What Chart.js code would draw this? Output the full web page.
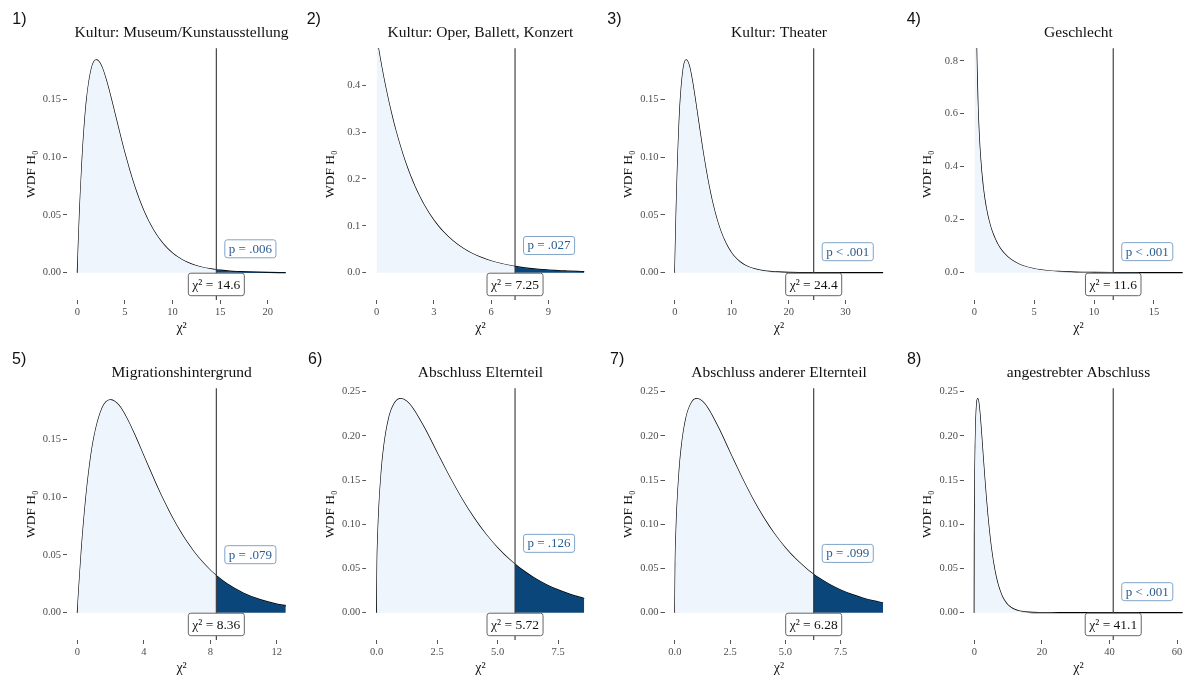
<!DOCTYPE html>
<html>
<head>
<meta charset="utf-8">
<script src="https://cdn.jsdelivr.net/npm/chart.js@4.4.0/dist/chart.umd.min.js"></script>
<style>
  html, body { margin: 0; padding: 0; background: #fff; overflow: hidden; }
  #wrap { position: relative; width: 1187px; height: 675px; overflow: hidden; }
  #wrap canvas { position: absolute; }
</style>
</head>
<body>
<div id="wrap"></div>
<script>
// Titel und Teststatistiken je Panel
const titles = [
  "Kultur: Museum/Kunstausstellung", "Kultur: Oper, Ballett, Konzert", "Kultur: Theater", "Geschlecht",
  "Migrationshintergrund", "Abschluss Elternteil", "Abschluss anderer Elternteil", "angestrebter Abschluss"
];
const chiValues = [14.6, 7.25, 24.4, 11.6, 8.36, 5.72, 6.28, 41.1];
const chiLabels = ["14.6", "7.25", "24.4", "11.6", "8.36", "5.72", "6.28", "41.1"];
const pLabels = ["p = .006", "p = .027", "p < .001", "p < .001", "p = .079", "p = .126", "p = .099", "p < .001"];

// Tick-Werte
const xTicks = [[0, 5, 10, 15, 20], [0, 3, 6, 9], [0, 10, 20, 30], [0, 5, 10, 15],
  [0, 4, 8, 12], [0, 2.5, 5, 7.5], [0, 2.5, 5, 7.5], [0, 20, 40, 60]];
const yTicks = [[0, 0.05, 0.1, 0.15], [0, 0.1, 0.2, 0.3, 0.4], [0, 0.05, 0.1, 0.15], [0, 0.2, 0.4, 0.6, 0.8],
  [0, 0.05, 0.1, 0.15], [0, 0.05, 0.1, 0.15, 0.2, 0.25], [0, 0.05, 0.1, 0.15, 0.2, 0.25], [0, 0.05, 0.1, 0.15, 0.2, 0.25]];
const xDec = [0, 0, 0, 0, 0, 1, 1, 0];
const yDec = [2, 1, 2, 1, 2, 2, 2, 2];
const yTop = [0.194, 0.479, 0.194, 0.847, 0.194, 0.2538, 0.2538, 0.2538];

// Dichtekurven
const x1 = [0, 0.25, 0.5, 0.75, 1, 1.5, 2, 2.5, 3, 3.5, 4, 5, 6, 7, 8, 9, 10, 11, 12, 13, 14, 14.6, 15, 16, 17, 18, 20, 21.9];
const y1 = [0, 0.0552, 0.0974, 0.1289, 0.1516, 0.1771, 0.1839, 0.1791, 0.1673, 0.1520, 0.1353, 0.1026, 0.0747, 0.0528, 0.0366, 0.0250, 0.0168, 0.0112, 0.0074, 0.0049, 0.0032, 0.0025, 0.0021, 0.0013, 0.0009, 0.0006, 0.0002, 0.0001];

const x2 = [0, 0.25, 0.5, 0.75, 1, 1.5, 2, 2.5, 3, 3.5, 4, 4.5, 5, 5.5, 6, 6.5, 7, 7.25, 7.5, 8, 8.5, 9, 9.5, 10, 10.5, 10.875];
const y2 = [0.5, 0.4412, 0.3894, 0.3436, 0.3033, 0.2362, 0.1839, 0.1433, 0.1116, 0.0869, 0.0677, 0.0527, 0.0410, 0.0320, 0.0249, 0.0194, 0.0151, 0.0133, 0.0118, 0.0092, 0.0071, 0.0056, 0.0043, 0.0034, 0.0026, 0.0022];

const x3 = [0, 0.25, 0.5, 0.75, 1, 1.5, 2, 2.5, 3, 3.5, 4, 5, 6, 7, 8, 9, 10, 11, 12, 13, 14, 16, 18, 20, 24.4, 28, 32, 36.6];
const y3 = [0, 0.0552, 0.0974, 0.1289, 0.1516, 0.1771, 0.1839, 0.1791, 0.1673, 0.1520, 0.1353, 0.1026, 0.0747, 0.0528, 0.0366, 0.0250, 0.0168, 0.0112, 0.0074, 0.0049, 0.0032, 0.0013, 0.0006, 0.0002, 0, 0, 0, 0];

const x4 = [0.01, 0.05, 0.1, 0.15, 0.2, 0.3, 0.4, 0.5, 0.75, 1, 1.25, 1.5, 2, 2.5, 3, 3.5, 4, 5, 6, 7, 8, 9, 10, 11.6, 14, 17.4];
const y4 = [3.97, 1.74, 1.2, 0.9556, 0.8072, 0.6269, 0.5164, 0.4394, 0.3166, 0.2420, 0.1910, 0.1539, 0.1038, 0.0723, 0.0514, 0.0371, 0.0270, 0.0146, 0.0081, 0.0046, 0.0026, 0.0015, 0.0009, 0.0003, 0.0001, 0];

const x5 = [0, 0.25, 0.5, 0.75, 1, 1.5, 2, 2.5, 3, 3.5, 4, 5, 6, 7, 8, 8.36, 9, 10, 11, 12, 12.54];
const y5 = [0, 0.0552, 0.0974, 0.1289, 0.1516, 0.1771, 0.1839, 0.1791, 0.1673, 0.1520, 0.1353, 0.1026, 0.0747, 0.0528, 0.0366, 0.0320, 0.0250, 0.0168, 0.0112, 0.0074, 0.0060];

const x6 = [0, 0.02, 0.05, 0.1, 0.2, 0.3, 0.5, 0.75, 1, 1.25, 1.5, 2, 2.5, 3, 3.5, 4, 4.5, 5, 5.5, 5.72, 6, 6.5, 7, 7.5, 8, 8.58];
const y6 = [0, 0.0559, 0.0870, 0.1200, 0.1614, 0.1881, 0.2197, 0.2375, 0.2420, 0.2388, 0.2308, 0.2076, 0.1807, 0.1542, 0.1297, 0.1080, 0.0892, 0.0732, 0.0598, 0.0547, 0.0487, 0.0395, 0.0319, 0.0257, 0.0207, 0.0160];

const x7 = [0, 0.02, 0.05, 0.1, 0.2, 0.3, 0.5, 0.75, 1, 1.25, 1.5, 2, 2.5, 3, 3.5, 4, 4.5, 5, 5.5, 6, 6.28, 6.5, 7, 7.5, 8, 8.5, 9, 9.42];
const y7 = [0, 0.0559, 0.0870, 0.1200, 0.1614, 0.1881, 0.2197, 0.2375, 0.2420, 0.2388, 0.2308, 0.2076, 0.1807, 0.1542, 0.1297, 0.1080, 0.0892, 0.0732, 0.0598, 0.0487, 0.0433, 0.0395, 0.0319, 0.0257, 0.0207, 0.0166, 0.0133, 0.0110];

const x8 = [0, 0.05, 0.1, 0.2, 0.3, 0.5, 0.75, 1, 1.25, 1.5, 2, 2.5, 3, 3.5, 4, 5, 6, 7, 8, 9, 10, 12, 14, 16, 20, 25, 30, 41.1, 50, 61.65];
const y8 = [0, 0.0870, 0.1200, 0.1614, 0.1881, 0.2197, 0.2375, 0.2420, 0.2388, 0.2308, 0.2076, 0.1807, 0.1542, 0.1297, 0.1080, 0.0732, 0.0487, 0.0319, 0.0207, 0.0133, 0.0085, 0.0034, 0.0014, 0.0005, 0.0001, 0, 0, 0, 0, 0];

const curvesX = [x1, x2, x3, x4, x5, x6, x7, x8];
const curvesY = [y1, y2, y3, y4, y5, y6, y7, y8];

// Layout (Pixel)
const colStart = [0, 298, 597, 896];
const plotLeft = [67, 366.3, 664.5, 963.9];
const plotRight = [296.2, 594.6, 893.5, 1193.1];
const numX = [12.3, 306.7, 607.3, 906.7, 12, 308, 610, 907];
const CW = 300, CH = 340;

const lightBlue = "#eef5fc";
const darkBlue = "#0a4679";
const serif = '"Liberation Serif", "Times New Roman", serif';

function boxPath(ctx, x, y, w, h, r) {
  ctx.beginPath();
  ctx.moveTo(x + r, y);
  ctx.lineTo(x + w - r, y);
  ctx.quadraticCurveTo(x + w, y, x + w, y + r);
  ctx.lineTo(x + w, y + h - r);
  ctx.quadraticCurveTo(x + w, y + h, x + w - r, y + h);
  ctx.lineTo(x + r, y + h);
  ctx.quadraticCurveTo(x, y + h, x, y + h - r);
  ctx.lineTo(x, y + r);
  ctx.quadraticCurveTo(x, y, x + r, y);
  ctx.closePath();
}

const panelDecor = {
  id: "panelDecor",
  afterDatasetsDraw(chart, args, opts) {
    const { ctx, chartArea: ca, scales } = chart;
    const p = opts.panel;
    const xs = scales.x, ys = scales.y;
    const cut = chiValues[p];
    const vx = xs.getPixelForValue(cut);
    ctx.save();

    // kritische Linie
    ctx.strokeStyle = "#333";
    ctx.lineWidth = 1.1;
    ctx.beginPath();
    ctx.moveTo(vx, ca.top);
    ctx.lineTo(vx, ca.bottom);
    ctx.stroke();

    // Chi-Quadrat-Label
    ctx.lineWidth = 1;
    ctx.font = "13.5px " + serif;
    ctx.textAlign = "center";
    ctx.textBaseline = "middle";
    const chiText = "χ² = " + chiLabels[p];
    const tw = ctx.measureText(chiText).width;
    const y0 = ys.getPixelForValue(0);
    boxPath(ctx, vx - tw / 2 - 4, y0 + 0.5, tw + 8, 22.5, 2.5);
    ctx.fillStyle = "#fff";
    ctx.fill();
    ctx.strokeStyle = "#666";
    ctx.stroke();
    ctx.fillStyle = "#111";
    ctx.fillText(chiText, vx, y0 + 12.5);

    // p-Label
    ctx.font = "13px " + serif;
    const dens = curvesY[p][curvesX[p].indexOf(cut)];
    const yc = ys.getPixelForValue(dens) - 21;
    const pw = ctx.measureText(pLabels[p]).width;
    const bx = vx + 8.5;
    boxPath(ctx, bx, yc - 9, pw + 8, 18, 2.5);
    ctx.fillStyle = "#fff";
    ctx.fill();
    ctx.strokeStyle = "#7fa4c9";
    ctx.stroke();
    ctx.fillStyle = "#2b5d90";
    ctx.textAlign = "left";
    ctx.fillText(pLabels[p], bx + 4, yc + 0.5);

    ctx.restore();
  },
  afterDraw(chart, args, opts) {
    const { ctx, chartArea: ca } = chart;
    const p = opts.panel;
    const cx = (ca.left + ca.right) / 2;
    ctx.save();
    ctx.fillStyle = "#111";
    ctx.textBaseline = "middle";

    // Panel-Nummer
    ctx.font = '16px "Liberation Sans", Arial, sans-serif';
    ctx.textAlign = "left";
    ctx.fillText((p + 1) + ")", numX[p] - colStart[p % 4], 20);

    // Titel
    ctx.font = "15.5px " + serif;
    ctx.textAlign = "center";
    ctx.fillText(titles[p], cx, 33);

    // Achsentitel
    ctx.font = "14px " + serif;
    ctx.fillText("χ²", cx, 328);
    ctx.font = "13.5px " + serif;
    ctx.translate(ca.left - 36, (ca.top + ca.bottom) / 2);
    ctx.rotate(-Math.PI / 2);
    ctx.fillText("WDF H₀", 0, 0);
    ctx.restore();
  }
};

const wrap = document.getElementById("wrap");

for (let p = 0; p < 8; p++) {
  const col = p % 4, row = Math.floor(p / 4);
  const canvas = document.createElement("canvas");
  canvas.width = CW;
  canvas.height = CH;
  canvas.style.left = colStart[col] + "px";
  canvas.style.top = (row * CH) + "px";
  wrap.appendChild(canvas);

  const xs = curvesX[p], ys = curvesY[p];
  const cut = chiValues[p];
  const pts = xs.map((x, i) => ({ x: x, y: ys[i] }));
  const leftPts = pts.filter((d) => d.x <= cut);
  const rightPts = pts.filter((d) => d.x >= cut);
  const xMax = xs[xs.length - 1];
  const yMax = yTop[p];

  const tickStyle = { family: serif, size: 10.5 };

  new Chart(canvas, {
    type: "line",
    data: {
      datasets: [
        { data: leftPts, fill: "origin", backgroundColor: lightBlue, borderWidth: 0, pointRadius: 0, cubicInterpolationMode: "monotone" },
        { data: rightPts, fill: "origin", backgroundColor: darkBlue, borderWidth: 0, pointRadius: 0, cubicInterpolationMode: "monotone" },
        { data: pts, fill: false, borderColor: "#000", borderWidth: 1.3, pointRadius: 0, cubicInterpolationMode: "monotone" }
      ]
    },
    options: {
      responsive: false,
      animation: false,
      devicePixelRatio: 1,
      layout: { padding: { top: 48.3, left: 0, bottom: 0, right: colStart[col] + CW - plotRight[col] } },
      plugins: {
        legend: { display: false },
        tooltip: { enabled: false },
        panelDecor: { panel: p }
      },
      scales: {
        x: {
          type: "linear",
          min: -0.05 * xMax,
          max: 1.05 * xMax,
          afterBuildTicks: (scale) => { scale.ticks = xTicks[p].map((v) => ({ value: v })); },
          afterFit: (scale) => { scale.height = 40; },
          ticks: {
            autoSkip: false, maxRotation: 0, padding: 2, color: "#4d4d4d", font: tickStyle,
            callback: (v) => Number(v).toFixed(xDec[p])
          },
          grid: { drawOnChartArea: false, drawTicks: true, tickLength: 4, color: "#555" },
          border: { display: false }
        },
        y: {
          min: -0.1217 * yMax,
          max: yMax,
          afterBuildTicks: (scale) => { scale.ticks = yTicks[p].map((v) => ({ value: v })); },
          afterFit: (scale) => { scale.width = plotLeft[col] - colStart[col]; },
          ticks: {
            autoSkip: false, padding: 2, color: "#4d4d4d", font: tickStyle,
            callback: (v) => Number(v).toFixed(yDec[p])
          },
          grid: { drawOnChartArea: false, drawTicks: true, tickLength: 4, color: "#555" },
          border: { display: false }
        }
      }
    },
    plugins: [panelDecor]
  });
}
</script>
</body>
</html>
